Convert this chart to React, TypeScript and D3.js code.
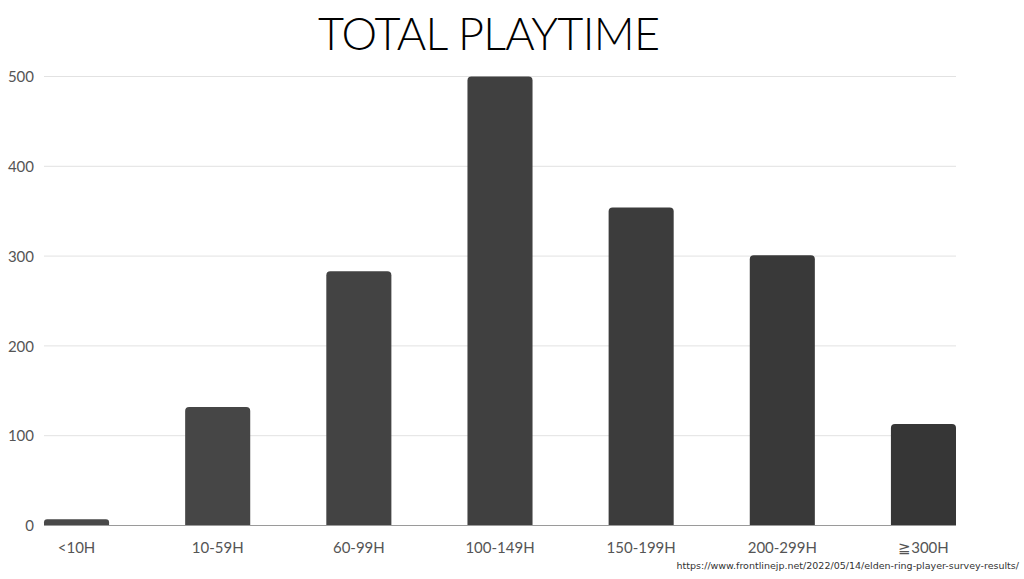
import * as d3 from "d3";
import React, { useRef, useEffect } from 'react'

const categories = ["<10H", "10-59H", "60-99H", "100-149H", "150-199H", "200-299H", "≧300H"]
const counts = [7, 132, 283, 500, 354, 301, 113]
const yTicks = [0, 100, 200, 300, 400, 500]

const W = 1024
const H = 579
const m = { l: 44, r: 956, t: 76.5, b: 525.5 }

// rect with rounded top corners only
const topRounded = (x: number, y: number, w: number, h: number, r: number) => {
  const rr = Math.min(r, h / 2, w / 2)
  return `M${x},${y + h}V${y + rr}Q${x},${y} ${x + rr},${y}H${x + w - rr}Q${x + w},${y} ${x + w},${y + rr}V${y + h}Z`
}

const App: React.FC = () => {
  const gy = useRef<SVGGElement>(null)
  const gx = useRef<SVGGElement>(null)

  const x = d3.scaleBand(categories, [m.l, m.r]).paddingInner(0.539).paddingOuter(0)
  const y = d3.scaleLinear([0, 500], [m.b, m.t])
  const color = d3.scaleLinear<string>([0, categories.length - 1], ["#494949", "#363636"])

  useEffect(() => {
    if (!gy.current) return
    const g = d3.select(gy.current)
    g.selectAll("*").remove()
    g.call(d3.axisLeft(y).tickValues(yTicks).tickSize(0).tickPadding(0))
    g.select(".domain").remove()
    g.selectAll("text")
      .attr("x", -10)
      .attr("dy", "0.35em")
      .style("font-family", "Lato, sans-serif")
      .style("font-size", "15px")
      .style("fill", "#555")
  }, [])

  useEffect(() => {
    if (!gx.current) return
    const g = d3.select(gx.current)
    g.selectAll("*").remove()
    g.call(d3.axisBottom(x).tickSize(0).tickPadding(0))
    g.select(".domain").remove()
    g.selectAll("text")
      .attr("y", 27)
      .attr("dy", 0)
      .style("font-family", "Lato, sans-serif")
      .style("font-size", "15px")
      .style("fill", "#555")
  }, [])

  return (
    <svg width={W} height={H} style={{ position: "absolute", left: 0, top: 0, background: "#fff" }}>
      <text x={489} y={50} textAnchor="middle" textLength={342} lengthAdjust="spacing"
        style={{ fontFamily: "Lato, sans-serif", fontWeight: 300, fontSize: "45px", fill: "#000" }}>
        TOTAL PLAYTIME
      </text>
      {yTicks.filter(t => t > 0).map(t =>
        <line key={t} x1={m.l} x2={m.r} y1={y(t)} y2={y(t)} stroke="#e2e2e2" strokeWidth={1} />)}
      {categories.map((c, i) => {
        const bx = x(c) as number
        const by = y(counts[i])
        return <path key={c} d={topRounded(bx, by, x.bandwidth(), m.b - by, 4)} fill={color(i)} />
      })}
      <line x1={m.l} x2={m.r} y1={m.b} y2={m.b} stroke="#9a9a9a" strokeWidth={1.2} />
      <g ref={gy} transform={`translate(${m.l}, 0)`} />
      <g ref={gx} transform={`translate(0, ${m.b})`} />
      <text x={1019} y={569} textAnchor="end"
        style={{ fontFamily: "'DejaVu Sans', sans-serif", fontSize: "9.5px", fill: "#333" }}>
        https://www.frontlinejp.net/2022/05/14/elden-ring-player-survey-results/
      </text>
    </svg>
  )
}

export default App
